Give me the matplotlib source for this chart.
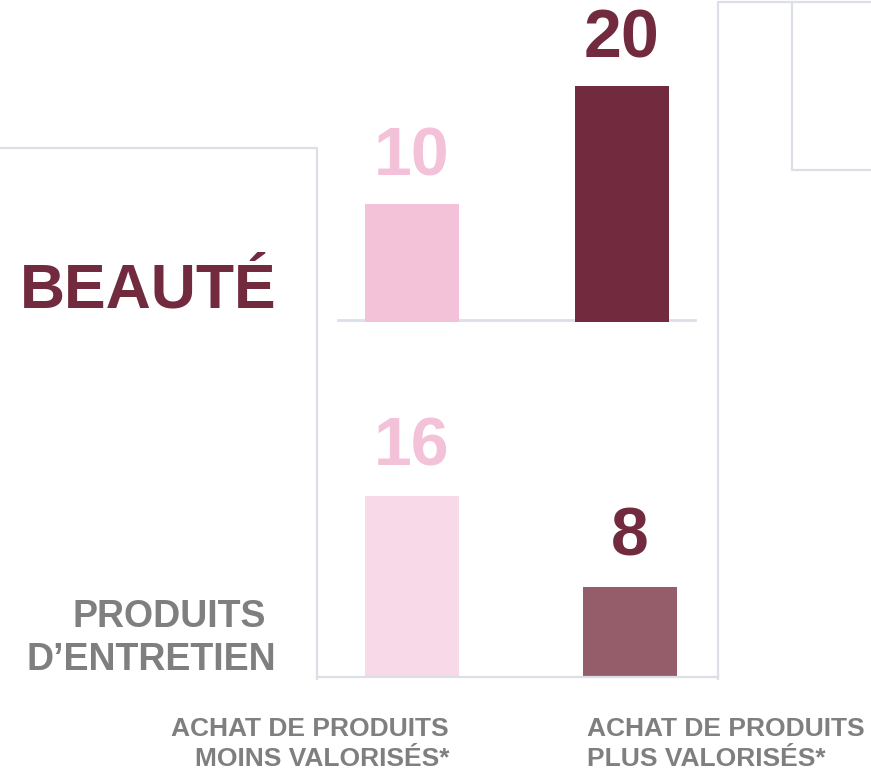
import matplotlib.pyplot as plt
from matplotlib.lines import Line2D

# data
groups = ["BEAUTÉ", "PRODUITS\nD’ENTRETIEN"]
beaute = [10, 20]
entretien = [16, 8]
xlabels = ["ACHAT DE PRODUITS\nMOINS VALORISÉS*", "ACHAT DE PRODUITS\nPLUS VALORISÉS*"]

maroon = '#722A3E'
pink = '#F3C1D8'
pink_light = '#F7D9E8'
mauve = '#955C6A'
grey = '#7F7F7F'
frame = '#DCDFE8'

W, H = 871, 770
plt.rcParams['font.family'] = ['Liberation Sans', 'DejaVu Sans']
fig = plt.figure(figsize=(W / 100, H / 100), dpi=100)


def px(x, y):
    # pixel (from top-left) -> figure fraction
    return x / W, (H - y) / H


def fig_line(xs, ys):
    fx = [x / W for x in xs]
    fy = [(H - y) / H for y in ys]
    fig.add_artist(Line2D(fx, fy, color=frame, lw=1.6, transform=fig.transFigure))


# decorative frame lines
fig_line([0, 317, 317], [148, 148, 679])
fig_line([317, 718], [677, 677])
fig_line([718, 718, 871], [679, 2, 2])
fig_line([792, 792, 871], [2, 170, 170])

# upper panel (beauté)
ax1 = fig.add_axes([317 / W, 448 / H, 401 / W, 322 / H])
x = [0, 1]
ax1.bar(x, beaute, width=94 / 210, color=[pink, maroon], zorder=3)
ax1.axhline(0.15, xmin=21 / 401, xmax=378 / 401, color=frame, lw=2, zorder=1)
ax1.set_xlim(-95 / 210, -95 / 210 + 401 / 210)
ax1.set_ylim(0, 322 / 11.8)
for xi, v, c in zip(x, beaute, [pink, maroon]):
    ax1.annotate(str(v), (xi, v), xytext=(0, 29), textcoords='offset pixels',
                 ha='center', va='baseline', fontsize=49, fontweight='bold', color=c)

# lower panel (produits d'entretien)
ax2 = fig.add_axes([317 / W, 93 / H, 401 / W, 347 / H])
ax2.bar(x, entretien, width=94 / 217.5, color=[pink_light, mauve], zorder=3)
ax2.set_xlim(-95 / 217.5, -95 / 217.5 + 401 / 217.5)
ax2.set_ylim(0, 347 / 11.3)
for xi, v, c in zip(x, entretien, [pink, maroon]):
    ax2.annotate(str(v), (xi, v), xytext=(0, 31), textcoords='offset pixels',
                 ha='center', va='baseline', fontsize=49, fontweight='bold', color=c)

for ax in (ax1, ax2):
    ax.axis('off')
    ax.patch.set_alpha(0)

# row titles
fig.text(*px(276, 307), groups[0], ha='right', va='baseline',
         fontsize=45, fontweight='bold', color=maroon)
l1, l2 = groups[1].split('\n')
fig.text(*px(266, 627), l1, ha='right', va='baseline',
         fontsize=27, fontweight='bold', color=grey)
fig.text(*px(276, 670), l2, ha='right', va='baseline',
         fontsize=27, fontweight='bold', color=grey)

# column labels
for lab, xp, ha in zip(xlabels, [449, 587], ['right', 'left']):
    for line, yp in zip(lab.split('\n'), [736, 766]):
        fig.text(*px(xp, yp), line, ha=ha, va='baseline', fontsize=19,
                 fontweight='bold', color=grey)

fig.savefig('out.png', dpi=100)
